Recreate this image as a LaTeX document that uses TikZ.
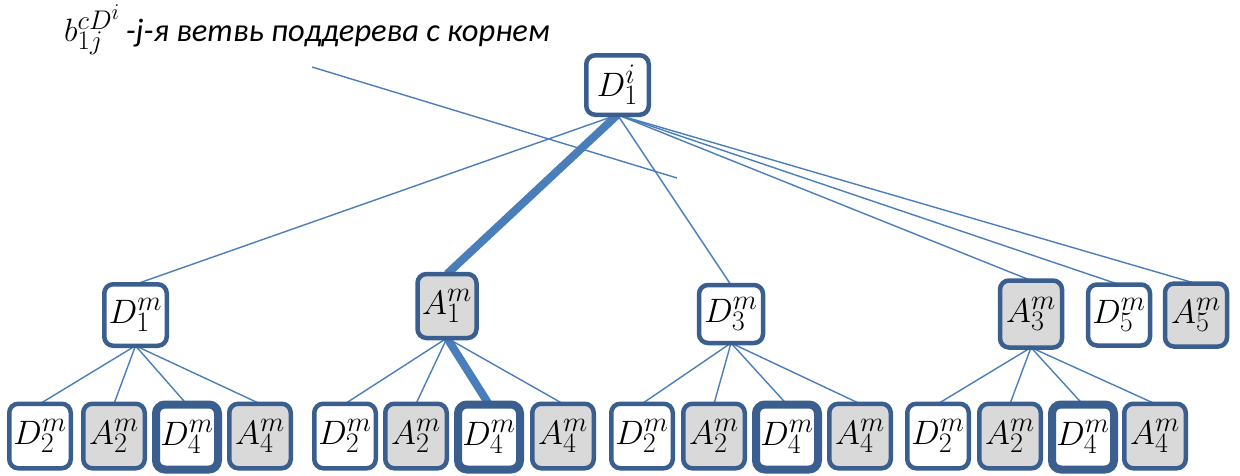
\documentclass[tikz,border=0pt]{standalone}
\usepackage{graphicx}
\usepackage{fontspec}
\newfontfamily\calibri{Carlito}[ItalicFont={Carlito Italic}]
\usetikzlibrary{backgrounds}
\definecolor{boxblue}{HTML}{3A5F8F}
\definecolor{lineblue}{HTML}{4A7EBB}
\definecolor{boxgrey}{HTML}{D9D9D9}
\newcommand\nodemath[1]{\scalebox{1.36}{$#1$}}
\newcommand\labelmath[1]{\scalebox{1.3}{$#1$}}
\begin{document}
\begin{tikzpicture}[x=1pt,y=-1pt,
  tbox/.style={draw=boxblue, line width=4.5pt, rounded corners=9pt, fill=white,
    inner sep=0pt, outer sep=0pt, minimum width=61.5pt, minimum height=64.5pt,
    font=\fontsize{24.88}{30}\selectfont},
  gbox/.style={tbox, fill=boxgrey},
  heavybox/.style={line width=8pt, minimum width=62pt, minimum height=65pt},
  link/.style={draw=lineblue, line width=1.4pt},
  heavylink/.style={draw=lineblue, line width=8pt}]
\useasboundingbox (0,0) rectangle (1240,475);

% label
\node[anchor=base west, inner sep=0pt, font=\calibri\itshape\fontsize{32}{36}\selectfont] (lbl) at (64,41)
  {\fontsize{24.88}{30}\selectfont\labelmath{b_{1j}^{cD^i}}\fontsize{32.5}{36}\selectfont\,-j-я ветвь поддерева с корнем};
\coordinate (p1) at (312,67);
\coordinate (p2) at (677,178);

% root
\node[tbox, minimum width=62.5pt, minimum height=59.5pt] (root) at (617.5,85) {\nodemath{D_1^i}};

% level 2
\node[tbox, minimum width=62.5pt, minimum height=61.5pt] (l1) at (135.5,315) {\nodemath{D_1^m}};
\node[gbox, minimum width=59pt, minimum height=64pt] (l2) at (447,306) {\nodemath{A_1^m}};
\node[tbox, minimum width=64pt, minimum height=58pt] (l3) at (731,314) {\nodemath{D_3^m}};
\node[gbox, minimum width=62pt, minimum height=67pt] (l4) at (1031,314) {\nodemath{A_3^m}};
\node[tbox, minimum width=62pt, minimum height=61pt] (l5) at (1119,315) {\nodemath{D_5^m}};
\node[gbox, minimum width=62pt, minimum height=63pt] (l6) at (1196,315) {\nodemath{A_5^m}};

% level 3
\node[tbox] (a1) at (40,436) {\nodemath{D_2^m}};
\node[gbox] (a2) at (114,436) {\nodemath{A_2^m}};
\node[tbox, heavybox] (a3) at (187,437) {\nodemath{D_4^m}};
\node[gbox] (a4) at (260,436) {\nodemath{A_4^m}};

\node[tbox] (b1) at (345,436) {\nodemath{D_2^m}};
\node[gbox] (b2) at (416,436) {\nodemath{A_2^m}};
\node[tbox, heavybox] (b3) at (489,437) {\nodemath{D_4^m}};
\node[gbox] (b4) at (563,436) {\nodemath{A_4^m}};

\node[tbox] (c1) at (642,436) {\nodemath{D_2^m}};
\node[gbox] (c2) at (714,436) {\nodemath{A_2^m}};
\node[tbox, heavybox] (c3) at (787,437) {\nodemath{D_4^m}};
\node[gbox] (c4) at (860,436) {\nodemath{A_4^m}};

\node[tbox] (d1) at (938,436) {\nodemath{D_2^m}};
\node[gbox] (d2) at (1010,436) {\nodemath{A_2^m}};
\node[tbox, heavybox] (d3) at (1083,437) {\nodemath{D_4^m}};
\node[gbox] (d4) at (1155,436) {\nodemath{A_4^m}};

\begin{pgfonlayer}{background}
  \draw[link] (p1) -- (p2);
  \draw[link] (root.south) -- (l1.north);
  \draw[heavylink] (root.south) -- (l2.north);
  \draw[link] (root.south) -- (l3.north);
  \draw[link] (root.south) -- (l4.north);
  \draw[link] (root.south) -- (l5.north);
  \draw[link] (root.south) -- (l6.north);
  \foreach \c in {a1,a2,a3,a4} \draw[link] (l1.south) -- (\c.north);
  \foreach \c in {b1,b2,b4} \draw[link] (l2.south) -- (\c.north);
  \draw[heavylink] (l2.south) -- (b3.north);
  \foreach \c in {c1,c2,c3,c4} \draw[link] (l3.south) -- (\c.north);
  \foreach \c in {d1,d2,d3,d4} \draw[link] (l4.south) -- (\c.north);
\end{pgfonlayer}
\end{tikzpicture}
\end{document}
